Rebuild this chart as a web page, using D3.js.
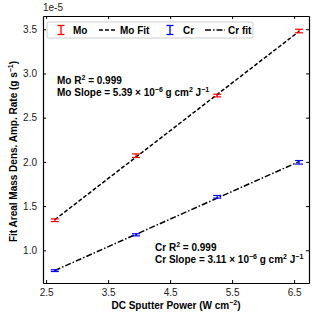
<!DOCTYPE html>
<html>
<head>
<meta charset="utf-8">
<script src="https://d3js.org/d3.v7.min.js"></script>
<style>
  body { margin: 0; background: #fff; }
  text { font-family: "Liberation Sans", Arial, sans-serif; }
</style>
</head>
<body>
<div id="chart"></div>
<script>
// data (y in units of 1e-5)
var power = [2.64, 3.95, 5.26, 6.58];
var moRate = [1.34, 2.07, 2.75, 3.48];
var moErr = [0.015, 0.02, 0.015, 0.02];
var crRate = [0.77, 1.175, 1.605, 1.995];
var crErr = [0.01, 0.012, 0.015, 0.02];
var xTicks = [2.5, 3.5, 4.5, 5.5, 6.5];
var yTicks = [1.0, 1.5, 2.0, 2.5, 3.0, 3.5];

var W = 318, H = 321;
var margin = {top: 16, right: 9, bottom: 38, left: 43};
var width = W - margin.left - margin.right,
    height = H - margin.top - margin.bottom;

var svg = d3.select("#chart").append("svg")
  .attr("width", W).attr("height", H);
var g = svg.append("g")
  .attr("transform", "translate(" + margin.left + "," + margin.top + ")");

var x = d3.scaleLinear().domain([2.45, 6.74]).range([0, width]);
var y = d3.scaleLinear().domain([0.63, 3.65]).range([height, 0]);

// axes with inward ticks
function styleAxis(sel) {
  sel.selectAll("path").attr("stroke", "#000").attr("stroke-width", 1.2);
  sel.selectAll("line").attr("stroke", "#000").attr("stroke-width", 1);
  sel.selectAll("text").attr("fill", "#222").style("font-size", "10px");
}
g.append("g").attr("transform", "translate(0," + height + ")")
  .call(d3.axisBottom(x).tickValues(xTicks).tickSizeInner(-3).tickSizeOuter(0).tickPadding(6).tickFormat(d3.format(".1f")))
  .call(styleAxis);
g.append("g")
  .call(d3.axisTop(x).tickValues(xTicks).tickSizeInner(-3).tickSizeOuter(0).tickFormat(""))
  .call(styleAxis);
g.append("g")
  .call(d3.axisLeft(y).tickValues(yTicks).tickSizeInner(-3).tickSizeOuter(0).tickPadding(6).tickFormat(d3.format(".1f")))
  .call(styleAxis);
g.append("g").attr("transform", "translate(" + width + ",0)")
  .call(d3.axisRight(y).tickValues(yTicks).tickSizeInner(-3).tickSizeOuter(0).tickFormat(""))
  .call(styleAxis);

svg.append("text").attr("x", margin.left).attr("y", 11)
  .style("font-size", "10px").attr("fill", "#222").text("1e-5");

// fit lines
function fitLine(ys, dash) {
  var n = power.length;
  var mx = d3.mean(power), my = d3.mean(ys);
  var sxy = d3.sum(power, function(p, i) { return (p - mx) * (ys[i] - my); });
  var sxx = d3.sum(power, function(p) { return (p - mx) * (p - mx); });
  var b = sxy / sxx, a = my - b * mx;
  var x0 = power[0], x1 = power[n - 1];
  g.append("line")
    .attr("x1", x(x0)).attr("y1", y(a + b * x0))
    .attr("x2", x(x1)).attr("y2", y(a + b * x1))
    .attr("stroke", "#000").attr("stroke-width", 1.5)
    .attr("stroke-dasharray", dash);
}
fitLine(moRate, "4,2");
fitLine(crRate, "6,2,1.5,2");

// error bars
function errBars(ys, es, color) {
  var sel = g.append("g").selectAll("g").data(power).enter().append("g")
    .attr("stroke", color).attr("stroke-width", 1.2);
  sel.append("line")
    .attr("x1", function(d) { return x(d); }).attr("x2", function(d) { return x(d); })
    .attr("y1", function(d, i) { return y(ys[i] - es[i]); })
    .attr("y2", function(d, i) { return y(ys[i] + es[i]); });
  [-1, 1].forEach(function(s) {
    sel.append("line")
      .attr("x1", function(d) { return x(d) - 4; }).attr("x2", function(d) { return x(d) + 4; })
      .attr("y1", function(d, i) { return y(ys[i] + s * es[i]); })
      .attr("y2", function(d, i) { return y(ys[i] + s * es[i]); });
  });
}
errBars(moRate, moErr, "#ff0000");
errBars(crRate, crErr, "#0000ff");

// legend
var leg = svg.append("g");
leg.append("rect").attr("x", 47).attr("y", 22).attr("width", 206).attr("height", 16)
  .attr("rx", 2).attr("fill", "#fff").attr("stroke", "#ccc").attr("stroke-width", 1);
function legErr(cx, color) {
  var lg = leg.append("g").attr("stroke", color).attr("stroke-width", 1.3);
  lg.append("line").attr("x1", cx).attr("x2", cx).attr("y1", 25.5).attr("y2", 34.5);
  lg.append("line").attr("x1", cx - 3.5).attr("x2", cx + 3.5).attr("y1", 25.5).attr("y2", 25.5);
  lg.append("line").attr("x1", cx - 3.5).attr("x2", cx + 3.5).attr("y1", 34.5).attr("y2", 34.5);
}
function legText(tx, s) {
  leg.append("text").attr("x", tx).attr("y", 33.5)
    .style("font-size", "10px").style("font-weight", "bold").text(s);
}
legErr(61, "#ff0000"); legText(73, "Mo");
leg.append("line").attr("x1", 99).attr("x2", 117).attr("y1", 30).attr("y2", 30)
  .attr("stroke", "#000").attr("stroke-width", 1.5).attr("stroke-dasharray", "4,2");
legText(120, "Mo Fit");
legErr(170, "#0000ff"); legText(183, "Cr");
leg.append("line").attr("x1", 205).attr("x2", 225).attr("y1", 30).attr("y2", 30)
  .attr("stroke", "#000").attr("stroke-width", 1.5).attr("stroke-dasharray", "6,2,1.5,2");
legText(228, "Cr fit");

// annotations
function annot(tx, ty, parts) {
  var t = svg.append("text").attr("x", tx).attr("y", ty)
    .style("font-size", "10px").style("font-weight", "bold");
  parts.forEach(function(p) {
    var ts = t.append("tspan").text(p[0]);
    if (p[1] === "sup") ts.attr("dy", -4).style("font-size", "7px");
    if (p[1] === "base") ts.attr("dy", 4);
  });
}
annot(57, 84, [["Mo R"], ["2", "sup"], [" = 0.999", "base"]]);
annot(57, 96, [["Mo Slope = 5.39 \u00d7 10"], ["\u22126", "sup"], [" g cm", "base"], ["2", "sup"], [" J", "base"], ["\u22121", "sup"]]);
annot(155, 251, [["Cr R"], ["2", "sup"], [" = 0.999", "base"]]);
annot(155, 263, [["Cr Slope = 3.11 \u00d7 10"], ["\u22126", "sup"], [" g cm", "base"], ["2", "sup"], [" J", "base"], ["\u22121", "sup"]]);

// axis labels
var xl = svg.append("text").attr("x", margin.left + width / 2).attr("y", 309)
  .attr("text-anchor", "middle").style("font-size", "10px").style("font-weight", "bold");
xl.append("tspan").text("DC Sputter Power (W cm");
xl.append("tspan").text("\u22122").attr("dy", -4).style("font-size", "7px");
xl.append("tspan").text(")").attr("dy", 4);

var yl = svg.append("text").attr("transform", "translate(17," + (margin.top + height / 2 + 2) + ") rotate(-90)")
  .attr("text-anchor", "middle").style("font-size", "10px").style("font-weight", "bold");
yl.append("tspan").text("Fit Areal Mass Dens. Amp. Rate (g s");
yl.append("tspan").text("\u22121").attr("dy", -4).style("font-size", "7px");
yl.append("tspan").text(")").attr("dy", 4);
</script>
</body>
</html>
